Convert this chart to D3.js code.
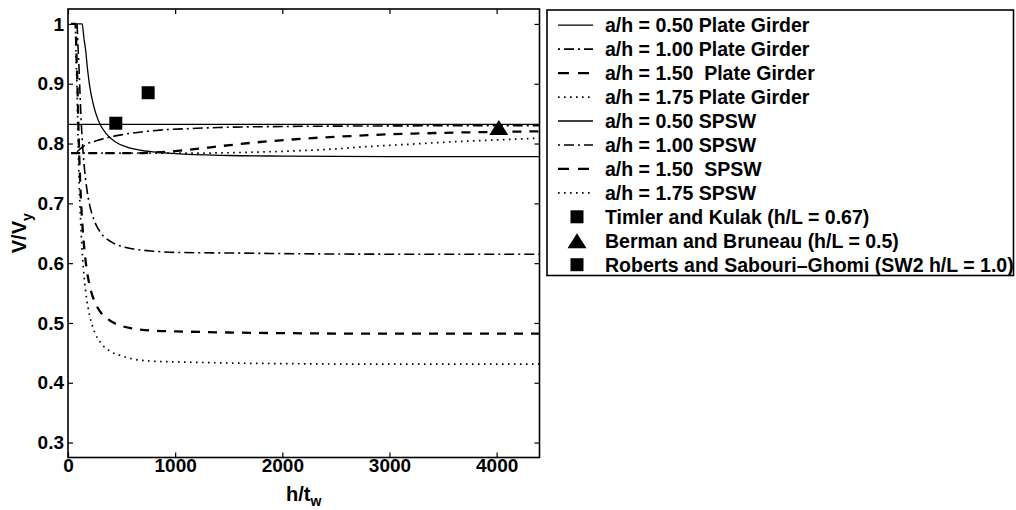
<!DOCTYPE html>
<html><head><meta charset="utf-8">
<script src="https://cdn.jsdelivr.net/npm/d3@7"></script>
<style>
body{margin:0;background:#fff}
svg{display:block}
text{font-family:"Liberation Sans",Arial,Helvetica,sans-serif;fill:#000}
</style>
</head><body>
<svg id="chart" width="1016" height="510"></svg>
<script>
// ---- data ----
const xTickValues = [0, 1000, 2000, 3000, 4000];
const xTickLabels = ["0", "1000", "2000", "3000", "4000"];
const yTickValues = [0.3, 0.4, 0.5, 0.6, 0.7, 0.8, 0.9, 1.0];
const yTickLabels = ["0.3", "0.4", "0.5", "0.6", "0.7", "0.8", "0.9", "1"];

// Plate girder curves  [h/tw, V/Vy]
const pg050 = [[30,1],[132,1],[150,0.974],[165,0.956],[180,0.928],[200,0.899],[230,0.870],[260,0.850],[300,0.832],[350,0.818],[440,0.803],[550,0.794],[670,0.789],[800,0.786],[1000,0.783],[1500,0.780],[2000,0.779],[3000,0.778],[4400,0.778]];
const pg100 = [[30,1],[84,1],[92,0.966],[100,0.938],[112,0.884],[120,0.849],[135,0.800],[150,0.765],[175,0.725],[200,0.699],[250,0.669],[300,0.652],[400,0.636],[500,0.628],[600,0.624],[800,0.620],[1000,0.618],[1500,0.617],[2000,0.616],[3000,0.615],[4400,0.615]];
const pg150 = [[30,1],[71,1],[80,0.943],[88,0.900],[95,0.845],[100,0.810],[110,0.753],[120,0.710],[135,0.662],[150,0.628],[175,0.589],[200,0.564],[250,0.535],[300,0.519],[400,0.503],[500,0.495],[600,0.491],[800,0.487],[1000,0.486],[1500,0.484],[2000,0.483],[3000,0.482],[4400,0.482]];
const pg175 = [[30,1],[68,1],[75,0.948],[85,0.888],[92,0.821],[100,0.761],[110,0.704],[120,0.661],[135,0.612],[150,0.578],[175,0.539],[200,0.514],[250,0.484],[300,0.468],[400,0.452],[500,0.445],[600,0.440],[800,0.436],[1000,0.435],[1500,0.433],[2000,0.432],[3000,0.431],[4400,0.431]];

// SPSW curves
const sp050 = [[0,0.832],[2000,0.832],[4400,0.832]];
const sp100 = [[30,0.784],[80,0.786],[120,0.792],[165,0.798],[271,0.805],[495,0.8145],[710,0.820],[900,0.823],[1200,0.8255],[1400,0.8268],[2000,0.8285],[3000,0.8295],[4400,0.830]];
const sp150 = [[30,0.784],[600,0.784],[800,0.785],[1000,0.7875],[1200,0.791],[1390,0.795],[1540,0.798],[1700,0.801],[2030,0.806],[2355,0.810],[2690,0.813],[3010,0.8155],[3300,0.817],[3660,0.8185],[4000,0.8195],[4400,0.8205]];
const sp175 = [[30,0.784],[1200,0.784],[1600,0.785],[2000,0.787],[2400,0.790],[2800,0.795],[3200,0.799],[3600,0.803],[4000,0.806],[4400,0.809]];

// Test results
const timlerKulak = [[446, 0.834]];
const bermanBruneau = [[4020, 0.827]];
const robertsSabouri = [[748, 0.885]];

const legendLabels = [
  "a/h = 0.50 Plate Girder",
  "a/h = 1.00 Plate Girder",
  "a/h = 1.50  Plate Girder",
  "a/h = 1.75 Plate Girder",
  "a/h = 0.50 SPSW",
  "a/h = 1.00 SPSW",
  "a/h = 1.50  SPSW",
  "a/h = 1.75 SPSW",
  "Timler and Kulak (h/L = 0.67)",
  "Berman and Bruneau (h/L = 0.5)",
  "Roberts and Sabouri\u2013Ghomi (SW2 h/L = 1.0)"
];

// ---- styles ----
const lineStyles = {
  solid:   {dash: null,          width: 1.3},
  dashdot: {dash: "2,4,10,4",    width: 1.6},
  dashed:  {dash: "9,8",         width: 2.3},
  dotted:  {dash: "1.6,4.4",     width: 1.7}
};
const legendDash = {solid: null, dashdot: "2,4,10,4", dashed: "11,9", dotted: "1.6,4.4"};

const lineSeries = [
  {data: pg050, style: "solid"},
  {data: pg100, style: "dashdot"},
  {data: pg150, style: "dashed"},
  {data: pg175, style: "dotted"},
  {data: sp050, style: "solid"},
  {data: sp100, style: "dashdot"},
  {data: sp150, style: "dashed"},
  {data: sp175, style: "dotted"}
];
const markerSeries = [
  {data: timlerKulak, shape: "square"},
  {data: bermanBruneau, shape: "triangle"},
  {data: robertsSabouri, shape: "square"}
];

// ---- layout ----
const svg = d3.select("#chart");
const plot = {left: 68, right: 539.5, top: 9, bottom: 457.5};
const x = d3.scaleLinear().domain([0, 4400]).range([plot.left, plot.right]);
const y = d3.scaleLinear().domain([0.275, 1.025]).range([plot.bottom, plot.top]);

svg.append("defs").append("clipPath").attr("id", "clip")
  .append("rect").attr("x", plot.left).attr("y", plot.top)
  .attr("width", plot.right - plot.left).attr("height", plot.bottom - plot.top);

const markerPath = {
  square: "M-6.5,-6.5H6.5V6.5H-6.5Z",
  triangle: "M0,-7.5L9.5,7.5L-9.5,7.5Z"
};

// curves
const line = d3.line().x(d => x(d[0])).y(d => y(d[1])).curve(d3.curveMonotoneX);
const curves = svg.append("g").attr("clip-path", "url(#clip)");
lineSeries.forEach(s => {
  const st = lineStyles[s.style];
  curves.append("path").datum(s.data)
    .attr("d", line)
    .attr("fill", "none").attr("stroke", "#000")
    .attr("stroke-width", st.width)
    .attr("stroke-dasharray", st.dash);
});

// markers
markerSeries.forEach(m => {
  svg.append("g").selectAll("path").data(m.data).join("path")
    .attr("d", markerPath[m.shape])
    .attr("transform", d => `translate(${x(d[0])},${y(d[1])})`)
    .attr("fill", "#000");
});

// axes with inward ticks
const fontSize = 19;
const axB = svg.append("g").attr("transform", `translate(0,${plot.bottom})`)
  .call(d3.axisBottom(x).tickValues(xTickValues).tickFormat((d,i) => xTickLabels[i])
    .tickSizeInner(-5).tickSizeOuter(0).tickPadding(1));
const axL = svg.append("g").attr("transform", `translate(${plot.left},0)`)
  .call(d3.axisLeft(y).tickValues(yTickValues).tickFormat((d,i) => yTickLabels[i])
    .tickSizeInner(-5).tickSizeOuter(0).tickPadding(4));
const axT = svg.append("g").attr("transform", `translate(0,${plot.top})`)
  .call(d3.axisTop(x).tickValues(xTickValues).tickFormat("").tickSizeInner(-5).tickSizeOuter(0));
const axR = svg.append("g").attr("transform", `translate(${plot.right},0)`)
  .call(d3.axisRight(y).tickValues(yTickValues).tickFormat("").tickSizeInner(-5).tickSizeOuter(0));
[axB, axL, axT, axR].forEach(a => {
  a.select(".domain").remove();
  a.selectAll(".tick line").attr("stroke", "#000").attr("stroke-width", 1.2);
  a.selectAll("text").attr("font-size", fontSize).attr("font-weight", "bold")
    .attr("font-family", "'Liberation Sans', Arial, sans-serif").attr("fill", "#000");
});

// box
svg.append("rect").attr("x", plot.left).attr("y", plot.top)
  .attr("width", plot.right - plot.left).attr("height", plot.bottom - plot.top)
  .attr("fill", "none").attr("stroke", "#000").attr("stroke-width", 1.6);

// axis labels
const xl = svg.append("text").attr("x", (plot.left + plot.right) / 2).attr("y", 501)
  .attr("text-anchor", "middle").attr("font-size", 20).attr("font-weight", "bold");
xl.append("tspan").text("h/t");
xl.append("tspan").attr("font-size", 14).attr("dy", 5).text("w");

const yl = svg.append("text")
  .attr("transform", `translate(26,${(plot.top + plot.bottom) / 2}) rotate(-90)`)
  .attr("text-anchor", "middle").attr("font-size", 20).attr("font-weight", "bold");
yl.append("tspan").text("V/V");
yl.append("tspan").attr("font-size", 14).attr("dy", 6).text("y");

// legend
const lg = {left: 547, top: 10, right: 1013.5, bottom: 275.5, rowY0: 25.2, rowStep: 23.95,
            sampleX0: 558, sampleX1: 593, textX: 605, markerX: 577};
svg.append("rect").attr("x", lg.left).attr("y", lg.top)
  .attr("width", lg.right - lg.left).attr("height", lg.bottom - lg.top)
  .attr("fill", "#fff").attr("stroke", "#000").attr("stroke-width", 1.6);

legendLabels.forEach((label, i) => {
  const cy = lg.rowY0 + i * lg.rowStep;
  if (i < lineSeries.length) {
    const st = lineStyles[lineSeries[i].style];
    svg.append("line").attr("x1", lg.sampleX0).attr("x2", lg.sampleX1)
      .attr("y1", cy).attr("y2", cy)
      .attr("stroke", "#000").attr("stroke-width", st.width)
      .attr("stroke-dasharray", legendDash[lineSeries[i].style]);
  } else {
    const m = markerSeries[i - lineSeries.length];
    svg.append("path").attr("d", markerPath[m.shape])
      .attr("transform", `translate(${lg.markerX},${cy})`).attr("fill", "#000");
  }
  svg.append("text").attr("x", lg.textX).attr("y", cy).attr("dy", "0.36em")
    .attr("font-size", 19.5).attr("font-weight", "bold")
    .style("white-space", "pre").text(label);
});
</script>
</body></html>
